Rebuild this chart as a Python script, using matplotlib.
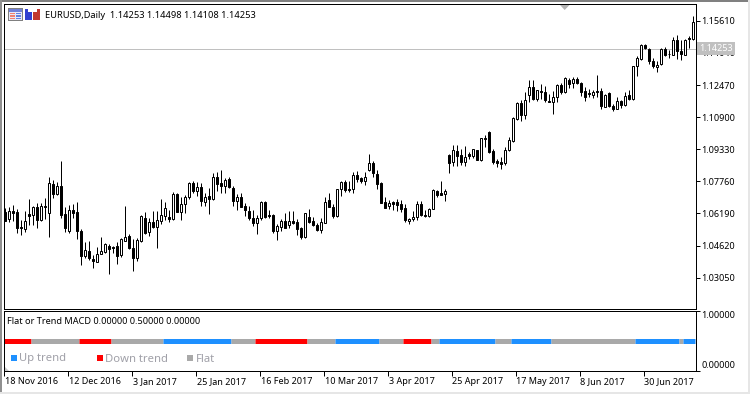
import matplotlib
matplotlib.use("Agg")
import numpy as np
import matplotlib.pyplot as plt
from matplotlib.patches import Rectangle, Polygon
from matplotlib.transforms import blended_transform_factory

# EURUSD daily candles
highs = [1.0647,1.0649,1.0660,1.0640,1.0586,1.0630,1.0690,1.0655,1.0668,1.0668,
         1.0693,1.0797,1.0783,1.0773,1.0876,1.0649,1.0660,1.0665,1.0675,1.0542,
         1.0478,1.0483,1.0415,1.0454,1.0503,1.0473,1.0468,1.0462,1.0480,1.0500,
         1.0655,1.0521,1.0492,1.0501,1.0611,1.0625,1.0598,1.0630,1.0629,1.0688,
         1.0676,1.0635,1.0724,1.0719,1.0701,1.0707,1.0773,1.0776,1.0773,1.0770,
         1.0717,1.0743,1.0815,1.0822,1.0832,1.0794,1.0797,1.0751,1.0716,1.0717,
         1.0668,1.0658,1.0635,1.0611,1.0680,1.0680,1.0634,1.0616,1.0570,1.0594,
         1.0619,1.0630,1.0630,1.0590,1.0553,1.0622,1.0640,1.0603,1.0573,1.0599,
         1.0701,1.0719,1.0665,1.0740,1.0778,1.0781,1.0778,1.0822,1.0825,1.0799,
         1.0822,1.0910,1.0876,1.0832,1.0771,1.0701,1.0684,1.0680,1.0688,1.0683,
         1.0665,1.0599,1.0630,1.0680,1.0678,1.0635,1.0645,1.0737,1.0734,1.0778,
         1.0738,1.0910,1.0954,1.0954,1.0933,1.0950,1.0920,1.0933,1.0930,1.0987,
         1.1002,1.1020,1.0933,1.0884,1.0894,1.0943,1.0995,1.1090,1.1165,1.1175,
         1.1212,1.1273,1.1273,1.1224,1.1253,1.1240,1.1204,1.1219,1.1252,1.1257,
         1.1286,1.1281,1.1286,1.1286,1.1263,1.1237,1.1227,1.1224,1.1298,1.1232,
         1.1201,1.1211,1.1155,1.1188,1.1175,1.1211,1.1224,1.1342,1.1388,1.1448,
         1.1450,1.1428,1.1379,1.1363,1.1428,1.1433,1.1420,1.1482,1.1494,1.1469,
         1.1472,1.1486,1.1587]
body_tops = [1.0627,1.0629,1.0630,1.0625,1.0552,1.0580,1.0616,1.0649,1.0650,1.0658,
             1.0658,1.0766,1.0761,1.0753,1.0753,1.0616,1.0634,1.0634,1.0625,1.0532,
             1.0442,1.0437,1.0398,1.0423,1.0436,1.0472,1.0462,1.0457,1.0459,1.0493,
             1.0506,1.0511,1.0452,1.0487,1.0606,1.0599,1.0575,1.0575,1.0586,1.0614,
             1.0644,1.0604,1.0714,1.0714,1.0663,1.0698,1.0768,1.0768,1.0747,1.0747,
             1.0698,1.0704,1.0797,1.0797,1.0766,1.0781,1.0788,1.0742,1.0698,1.0698,
             1.0658,1.0630,1.0596,1.0599,1.0675,1.0675,1.0611,1.0611,1.0560,1.0580,
             1.0580,1.0584,1.0584,1.0575,1.0548,1.0619,1.0604,1.0580,1.0565,1.0575,
             1.0673,1.0684,1.0653,1.0737,1.0771,1.0771,1.0740,1.0807,1.0807,1.0791,
             1.0796,1.0864,1.0864,1.0812,1.0768,1.0673,1.0668,1.0675,1.0673,1.0665,
             1.0645,1.0594,1.0604,1.0665,1.0665,1.0614,1.0643,1.0734,1.0729,1.0717,
             1.0729,1.0905,1.0928,1.0923,1.0904,1.0894,1.0910,1.0933,1.0928,1.0987,
             1.0987,1.1017,1.0925,1.0877,1.0871,1.0930,1.0979,1.1085,1.1160,1.1160,
             1.1175,1.1237,1.1239,1.1222,1.1219,1.1214,1.1168,1.1188,1.1248,1.1248,
             1.1283,1.1273,1.1278,1.1278,1.1257,1.1217,1.1208,1.1213,1.1219,1.1219,
             1.1198,1.1208,1.1147,1.1168,1.1168,1.1193,1.1198,1.1342,1.1380,1.1445,
             1.1445,1.1424,1.1366,1.1347,1.1425,1.1425,1.1400,1.1468,1.1468,1.1412,
             1.1469,1.1478,1.1556]
body_bottoms = [1.0583,1.0594,1.0622,1.0548,1.0548,1.0544,1.0608,1.0613,1.0588,1.0586,
                1.0652,1.0619,1.0716,1.0716,1.0613,1.0548,1.0534,1.0622,1.0534,1.0411,
                1.0411,1.0401,1.0387,1.0382,1.0423,1.0431,1.0447,1.0452,1.0411,1.0416,
                1.0485,1.0450,1.0401,1.0401,1.0485,1.0524,1.0529,1.0552,1.0553,1.0583,
                1.0606,1.0591,1.0591,1.0627,1.0627,1.0663,1.0701,1.0729,1.0730,1.0680,
                1.0676,1.0691,1.0691,1.0763,1.0755,1.0755,1.0750,1.0681,1.0681,1.0652,
                1.0635,1.0596,1.0572,1.0573,1.0599,1.0601,1.0606,1.0534,1.0534,1.0553,
                1.0548,1.0563,1.0573,1.0544,1.0503,1.0504,1.0577,1.0563,1.0539,1.0539,
                1.0573,1.0652,1.0606,1.0606,1.0737,1.0734,1.0735,1.0737,1.0788,1.0778,
                1.0779,1.0832,1.0815,1.0763,1.0671,1.0647,1.0657,1.0667,1.0660,1.0640,
                1.0586,1.0583,1.0591,1.0603,1.0612,1.0606,1.0606,1.0642,1.0707,1.0709,
                1.0716,1.0868,1.0869,1.0902,1.0871,1.0869,1.0899,1.0899,1.0882,1.0881,
                1.0984,1.0922,1.0872,1.0866,1.0861,1.0864,1.0930,1.0975,1.1082,1.1103,
                1.1103,1.1196,1.1178,1.1180,1.1211,1.1172,1.1162,1.1162,1.1188,1.1211,
                1.1211,1.1252,1.1257,1.1255,1.1211,1.1191,1.1204,1.1196,1.1213,1.1145,
                1.1142,1.1145,1.1131,1.1131,1.1150,1.1150,1.1178,1.1178,1.1339,1.1374,
                1.1428,1.1363,1.1339,1.1335,1.1350,1.1396,1.1400,1.1396,1.1412,1.1399,
                1.1396,1.1471,1.1474]
lows = [1.0583,1.0578,1.0583,1.0523,1.0514,1.0529,1.0562,1.0562,1.0548,1.0583,
        1.0590,1.0504,1.0696,1.0709,1.0598,1.0529,1.0524,1.0599,1.0494,1.0367,
        1.0401,1.0393,1.0353,1.0382,1.0420,1.0426,1.0323,1.0426,1.0372,1.0406,
        1.0482,1.0446,1.0338,1.0387,1.0480,1.0521,1.0510,1.0548,1.0451,1.0567,
        1.0586,1.0577,1.0586,1.0626,1.0586,1.0619,1.0691,1.0721,1.0706,1.0655,
        1.0655,1.0618,1.0684,1.0729,1.0717,1.0717,1.0745,1.0657,1.0635,1.0649,
        1.0609,1.0586,1.0557,1.0519,1.0586,1.0599,1.0599,1.0524,1.0490,1.0534,
        1.0548,1.0548,1.0567,1.0514,1.0495,1.0501,1.0573,1.0557,1.0534,1.0524,
        1.0573,1.0649,1.0596,1.0603,1.0706,1.0724,1.0724,1.0721,1.0775,1.0770,
        1.0758,1.0827,1.0797,1.0740,1.0670,1.0645,1.0640,1.0635,1.0630,1.0627,
        1.0578,1.0567,1.0583,1.0586,1.0606,1.0603,1.0603,1.0639,1.0699,1.0707,
        1.0681,1.0819,1.0853,1.0853,1.0855,1.0853,1.0884,1.0889,1.0881,1.0874,
        1.0946,1.0917,1.0861,1.0848,1.0838,1.0858,1.0925,1.0970,1.1077,1.1073,
        1.1083,1.1162,1.1175,1.1167,1.1180,1.1162,1.1162,1.1106,1.1162,1.1204,
        1.1208,1.1232,1.1234,1.1253,1.1194,1.1167,1.1188,1.1186,1.1191,1.1132,
        1.1139,1.1142,1.1118,1.1129,1.1137,1.1145,1.1175,1.1175,1.1289,1.1371,
        1.1424,1.1352,1.1330,1.1312,1.1347,1.1388,1.1379,1.1396,1.1376,1.1371,
        1.1396,1.1428,1.1466]
# u = bull candle (hollow), d = bear candle (filled)
directions = ("dudddududu" "dududduddd" "udduuudddu" "udduududuu" "ududuuudud"
              "ududduddud" "ddduuddduu" "dudddudddu" "udduuddudd" "uudddduddd"
              "duuudduudd" "ududdududu" "udddduuuud" "uududdduud" "ududdddudd"
              "uddududuuu" "ddduuduudd" "udu")

# x axis labels sit on every 16th bar
date_bars = [0, 16, 32, 48, 64, 80, 96, 112, 128, 144, 160]
date_labels = ["18 Nov 2016", "12 Dec 2016", "3 Jan 2017", "25 Jan 2017", "16 Feb 2017",
               "10 Mar 2017", "3 Apr 2017", "25 Apr 2017", "17 May 2017", "8 Jun 2017",
               "30 Jun 2017"]
price_ticks = [1.15610, 1.14040, 1.12470, 1.10900, 1.09330, 1.07760, 1.06190, 1.04620, 1.03050]
last_price = 1.14253
ohlc_text = "EURUSD,Daily  1.14253 1.14498 1.14108 1.14253"

# Flat or Trend MACD: state of each run and how many bars it lasts
trend_states = ["down", "flat", "down", "flat", "up", "flat", "down", "flat", "up", "flat",
                "down", "flat", "up", "flat", "up", "flat", "up", "flat", "up"]
trend_lengths = [7, 12, 8, 13, 17, 6, 13, 7, 11, 6, 7, 2, 14, 4, 10, 21, 11, 1, 3]
trend_value = 0.5
trend_colors = {"up": "#1e90ff", "down": "#ff0000", "flat": "#a9a9a9"}
legend_names = ["Up trend", "Down trend", "Flat"]

W, H = 750, 394
FONT = "Noto Sans"
px = 0.72  # one pixel in points at dpi 100

def fx(x):
    return x / W

def fy(y):
    return 1 - y / H

def pane(left, top, right, bottom):
    return fig.add_axes([fx(left), fy(bottom), fx(right - left), (bottom - top) / H])

def box(x, y, w, h, color):
    fig.add_artist(Rectangle((fx(x), fy(y + h)), w / W, h / H, transform=fig.transFigure,
                             facecolor=color, edgecolor="none"))

fig = plt.figure(figsize=(W / 100, H / 100), dpi=100, facecolor="white")

# window frame
box(0, 0, 750, 1.5, "#808080")
box(0, 0, 1.5, 392, "#909090")
box(0, 392, 750, 2, "#e6e6e6")
box(748, 0, 2, 394, "#e6e6e6")

ax = pane(4, 4, 696, 309)
ax2 = pane(4, 311, 696, 371)

# candles, bar i is centred on pixel 5 + 4 i
bars = np.arange(len(highs))
ax.vlines(bars, lows, highs, color="black", lw=px, zorder=2)
for i in bars:
    face = "white" if directions[i] == "u" else "black"
    ax.add_patch(Rectangle((i - 0.25, body_bottoms[i]), 0.5, body_tops[i] - body_bottoms[i],
                           facecolor=face, edgecolor="black", lw=px, zorder=3))

ax.axhline(last_price, color="#c0c0c0", lw=px, zorder=1)
ax.set_xlim(-0.125, 172.875)
ax.set_ylim(1.01519, 1.16434)
ax.set_xticks([])
ax.yaxis.tick_right()
ax.set_yticks(price_ticks)
ax.set_yticklabels([f"{p:.5f}" for p in price_ticks], fontsize=6.5, family=FONT)
ax.tick_params(axis="y", length=3, width=px, pad=0.6)

ytrans = blended_transform_factory(ax.transAxes, ax.transData)
ax.text(1.0045, last_price, f"{last_price:.5f}", transform=ytrans, color="white", fontsize=6.5,
        family=FONT, va="center", ha="left", clip_on=False, zorder=5,
        bbox=dict(boxstyle="square,pad=0.22", facecolor="#c0c0c0", edgecolor="none"))

# indicator pane
start = 0
for state, length in zip(trend_states, trend_lengths):
    ax2.hlines(trend_value, start - 0.5, start + length - 0.5, color=trend_colors[state],
               lw=5 * px, capstyle="butt")
    start += length
ax2.set_xlim(-0.125, 172.875)
ax2.set_ylim(0, 1)
ax2.yaxis.tick_right()
ax2.set_yticks([0, 1])
ax2.set_yticklabels(["", ""])
ax2.tick_params(axis="y", length=3, width=px)
# these two labels sit inside the pane, not on their ticks
ax2.annotate("1.00000", (1, 1), xycoords="axes fraction", xytext=(3.6, -3.4),
             textcoords="offset points", fontsize=6.5, family=FONT, va="center", ha="left",
             annotation_clip=False)
ax2.annotate("0.00000", (1, 0), xycoords="axes fraction", xytext=(3.6, 3.9),
             textcoords="offset points", fontsize=6.5, family=FONT, va="center", ha="left",
             annotation_clip=False)

ticks_at = [b - 0.15 for b in date_bars]
ax2.set_xticks(ticks_at)
ax2.set_xticklabels([""] * len(ticks_at))
ax2.tick_params(axis="x", length=3.6, width=px)
for t, label in zip(ticks_at, date_labels):
    ax2.annotate(label, (t, 0), xytext=(0.4, -7.4), textcoords="offset points", fontsize=6.5,
                 family=FONT, va="center", ha="left", annotation_clip=False)

for a in (ax, ax2):
    for s in a.spines.values():
        s.set_linewidth(px)
        s.set_color("black")

# header texts
fig.text(fx(45), fy(15), ohlc_text, fontsize=6.7, family=FONT, va="center", ha="left")
fig.text(fx(7), fy(321), "Flat or Trend MACD 0.00000 0.50000 0.00000", fontsize=6.6,
         family=FONT, va="center", ha="left")

# hand drawn legend in the indicator pane
for name, state, sq_x, txt_x in zip(legend_names, ["up", "down", "flat"], [11, 97, 187], [19, 105, 196]):
    box(sq_x, 355, 5.5, 5.5, trend_colors[state])
    fig.text(fx(txt_x), fy(359), name, fontsize=8.1, family=FONT, color="#a0a0a8",
             va="center", ha="left")

# toolbar icons, top left of the chart
box(8, 8, 15, 13, "#808080")
box(9, 9, 13, 11, "#e8e8f8")
box(9, 9, 13, 2.5, "#7080d8")
for cy in [12.5, 15, 17.5]:
    box(10, cy, 5, 1.5, "#f08070")
    box(16, cy, 5, 1.5, "#6080e0")
box(25, 9, 7, 11, "#3040d0")
box(33, 9, 7, 11, "#c03830")
box(28, 8, 4, 4, "white")
box(33, 8, 3.5, 4, "white")

# shift marker and small corner triangle
fig.add_artist(Polygon([(fx(560), fy(5)), (fx(569.5), fy(5)), (fx(564.7), fy(10))],
                       transform=fig.transFigure, facecolor="#b4b4b4", edgecolor="none"))
fig.add_artist(Polygon([(fx(5), fy(367)), (fx(5), fy(371)), (fx(9), fy(371))],
                       transform=fig.transFigure, facecolor="#c8c8c8", edgecolor="none"))

fig.savefig("out.png", dpi=100)
